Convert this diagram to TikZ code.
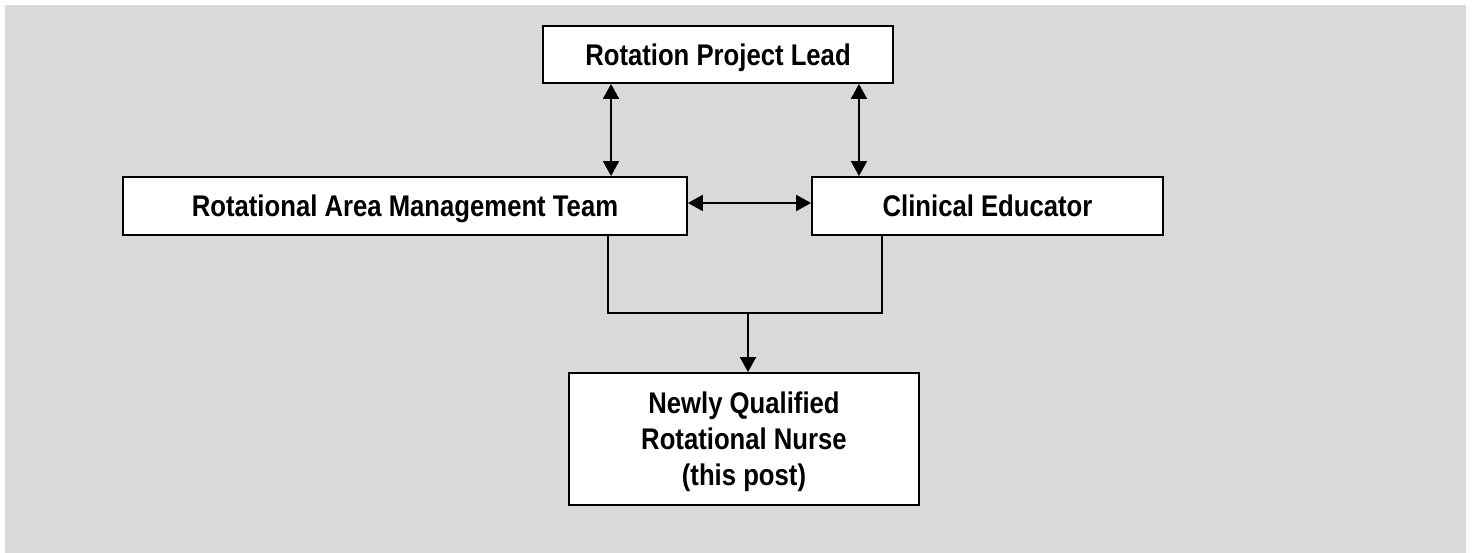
\documentclass[tikz,border=0pt]{standalone}
\usepackage{fontspec}
\setmainfont{Liberation Sans}[FakeStretch=0.86]
\usetikzlibrary{arrows.meta, positioning, calc}

\begin{document}
\begin{tikzpicture}[x=0.02cm, y=-0.02cm, inner sep=0pt,
	box/.style={draw=black, line width=1.1pt, fill=white, align=center,
		font=\fontsize{17}{20.5}\selectfont\bfseries},
	oneline/.style={box, text height=13pt, text depth=1pt, minimum height=1.16cm},
	link/.style={line width=1.1pt, {Triangle[length=0.3cm,width=0.32cm]}-{Triangle[length=0.3cm,width=0.32cm]}},
	feed/.style={line width=1.1pt, -{Triangle[length=0.3cm,width=0.32cm]}}]
	\useasboundingbox (0,0) rectangle (1472,553);
	\fill[fill={rgb,255:red,217;green,217;blue,217}] (5,5) rectangle (1466,553);
	\node (lead) [oneline, minimum width=7cm, minimum height=1.14cm] at (718,54.5) {Rotation Project Lead};
	\node (ramt) [oneline, minimum width=11.28cm] at (405,206) {Rotational Area Management Team};
	\node (educ) [oneline, minimum width=7.02cm] at (987.5,206) {Clinical Educator};
	\node (nurse) [box, text depth=0pt, minimum width=7cm, minimum height=2.64cm] at (744,439) {Newly Qualified\\Rotational Nurse\\(this post)};
	\coordinate (join) at (748,313);
	% two-way links
	\draw[link] ([xshift=-2.14cm]lead.south) -- ([xshift=-2.14cm]lead.south |- ramt.north);
	\draw[link] ([xshift=2.82cm]lead.south) -- ([xshift=2.82cm]lead.south |- educ.north);
	\draw[link] ([yshift=0.06cm]ramt.east) -- ([yshift=0.06cm]educ.west);
	% reporting line
	\draw[line width=1.1pt] ([xshift=4.06cm]ramt.south) |- (join) -| ([xshift=-2.11cm]educ.south);
	\draw[feed] (join) -- (join |- nurse.north);
\end{tikzpicture}
\end{document}
